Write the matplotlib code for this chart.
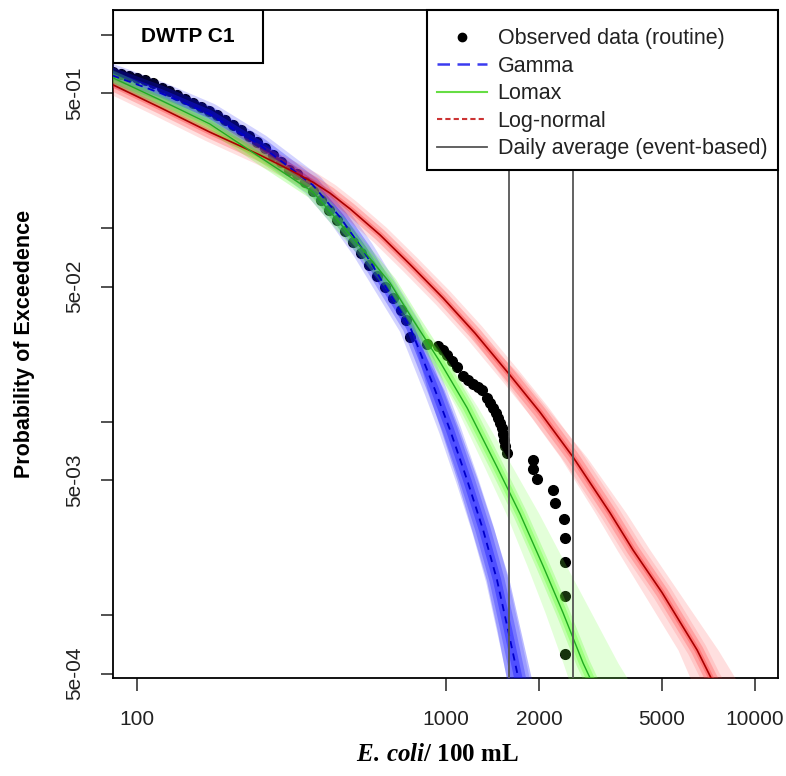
"""Exceedance plot of E. coli at DWTP C1: observed routine data vs fitted
Gamma, Lomax and log-normal curves, with event-based daily averages."""

import matplotlib
matplotlib.use("Agg")
import matplotlib.pyplot as plt
from matplotlib.lines import Line2D
from matplotlib.patches import Rectangle
from matplotlib.ticker import FixedLocator, FixedFormatter, NullFormatter, NullLocator

plt.rcParams["font.family"] = ["Liberation Sans", "DejaVu Sans"]
plt.rcParams["mathtext.fontset"] = "custom"
plt.rcParams["mathtext.it"] = "Liberation Serif:italic:bold"
plt.rcParams["mathtext.rm"] = "Liberation Serif:bold"

# --- data --------------------------------------------------------------
obs_conc = [83.6, 88.8, 94.2, 100, 106, 113, 120, 127, 135, 143, 152, 161, 171, 182,
            193, 205, 217, 230, 245, 260, 276, 292, 310, 330, 350, 371, 394, 418, 444,
            471, 500, 531, 563, 598, 635, 674, 715, 742, 765, 868, 942, 978, 1008, 1046,
            1085, 1135, 1178, 1223, 1269, 1308, 1358, 1388, 1420, 1452, 1474, 1496, 1518,
            1530, 1541, 1553, 1576, 1912, 1912, 1970, 2220, 2254, 2409, 2427, 2427, 2427,
            2427]
obs_prob = [0.642, 0.627, 0.612, 0.598, 0.583, 0.563, 0.531, 0.512, 0.488, 0.466, 0.444,
            0.423, 0.404, 0.385, 0.363, 0.342, 0.322, 0.300, 0.279, 0.260, 0.239, 0.220,
            0.200, 0.191, 0.173, 0.156, 0.140, 0.124, 0.110, 0.0968, 0.0849, 0.0745,
            0.0646, 0.0566, 0.0497, 0.0436, 0.0378, 0.0336, 0.0274, 0.0252, 0.0246,
            0.0235, 0.0221, 0.0206, 0.0192, 0.0172, 0.0164, 0.0157, 0.0151, 0.0146, 0.0133,
            0.0125, 0.0118, 0.0111, 0.0105, 0.00985, 0.00928, 0.00864, 0.00804, 0.00749,
            0.00689, 0.00631, 0.00568, 0.00505, 0.00442, 0.00379, 0.00315, 0.00252,
            0.00189, 0.00126, 0.00063]

gamma_conc = [76, 119, 172, 250, 371, 454, 539, 765, 921, 1030, 1170, 1318, 1462, 1587,
              1710, 1736]
gamma_prob = [0.650, 0.500, 0.389, 0.269, 0.167, 0.114, 0.0772, 0.0309, 0.0146, 0.00907,
              0.0050, 0.00276, 0.00152, 0.00084, 0.00048, 0.00042]
gamma_band_prob = [0.0309, 0.0146, 0.00907, 0.0050, 0.00276, 0.00152, 0.00084, 0.00048, 0.00042]
gamma_band_lo = [765, 870, 962, 1085, 1210, 1350, 1462, 1564, 1587]
gamma_band_hi = [765, 985, 1105, 1265, 1430, 1600, 1740, 1884, 1927]

lomax_conc = [76, 119, 172, 250, 371, 539, 659, 782, 956, 1170, 1462, 1736, 2060, 2391,
              2776, 2924, 3035]
lomax_prob = [0.643, 0.460, 0.346, 0.233, 0.154, 0.0772, 0.0521, 0.0336, 0.0204, 0.0118,
              0.00584, 0.00334, 0.00180, 0.00103, 0.000566, 0.000474, 0.000411]
lomax_band_prob = [0.0336, 0.0204, 0.0118, 0.00584, 0.00334, 0.00180, 0.00103, 0.000566,
                   0.000474, 0.000411]
lomax_band_lo = [782, 895, 1080, 1330, 1564, 1829, 2092, 2391, 2482, 2557]
lomax_band_hi = [782, 1020, 1270, 1640, 2000, 2450, 2950, 3600, 3854, 4060]

lnorm_conc = [76, 119, 172, 250, 313, 371, 421, 489, 612, 765, 978, 1241, 1611, 2014,
              2576, 3395, 4030, 5000, 6494, 7205, 7591]
lnorm_prob = [0.593, 0.420, 0.314, 0.239, 0.200, 0.173, 0.152, 0.126, 0.0923, 0.065,
              0.0436, 0.0287, 0.0174, 0.0112, 0.00657, 0.00338, 0.00217, 0.00131,
              0.000661, 0.000474, 0.000411]
lnorm_band_prob = [0.0436, 0.0174, 0.00657, 0.00338, 0.00217, 0.000661, 0.000474, 0.000411]
lnorm_band_lo = [978, 1500, 2340, 3035, 3576, 5634, 6161, 6445]
lnorm_band_hi = [978, 1740, 2850, 3824, 4573, 7591, 8616, 9147]

daily_avg = [1600, 2576]

x_ticks = [100, 1000, 2000, 5000, 10000]
x_tick_labels = ["100", "1000", "2000", "5000", "10000"]
y_ticks = [5e-4, 5e-3, 5e-2, 5e-1]
y_tick_labels = ["5e-04", "5e-03", "5e-02", "5e-01"]
y_minor = [1e-3, 1e-2, 1e-1, 1.0]

legend_labels = ["Observed data (routine)", "Gamma", "Lomax", "Log-normal",
                 "Daily average (event-based)"]
# ------------------------------------------------------------------------

fig = plt.figure(figsize=(7.86, 7.76), dpi=100)
ax = fig.add_axes([0.1438, 0.1263, 0.8461, 0.8608])
ax.set_xscale("log")
ax.set_yscale("log")


def soft_line(x, y, color, widths, alphas, z):
    for w, a in zip(widths, alphas):
        ax.plot(x, y, color=color, lw=w, alpha=a, solid_capstyle="butt",
                solid_joinstyle="round", zorder=z)


ax.plot(obs_conc, obs_prob, ls="none", marker="o", ms=7, color="black", zorder=2)

# uncertainty bands
soft_line(gamma_conc, gamma_prob, "#1010ff", [16, 11, 6], [0.18, 0.28, 0.4], 3)
ax.fill_betweenx(gamma_band_prob, gamma_band_lo, gamma_band_hi, color="#2020ff",
                 alpha=0.3, lw=0, zorder=3)
soft_line(lnorm_conc, lnorm_prob, "#ff3030", [14, 9, 4], [0.15, 0.25, 0.35], 3)
ax.fill_betweenx(lnorm_band_prob, lnorm_band_lo, lnorm_band_hi, color="#ff5050",
                 alpha=0.18, lw=0, zorder=3)
soft_line(lomax_conc, lomax_prob, "#55ff22", [10, 6], [0.25, 0.35], 3)
ax.fill_betweenx(lomax_band_prob, lomax_band_lo, lomax_band_hi, color="#77ff44",
                 alpha=0.2, lw=0, zorder=3)

# fitted curves
ax.plot(gamma_conc, gamma_prob, color="#0000cc", lw=1.3, ls=(0, (4, 3)), zorder=4)
ax.plot(lnorm_conc, lnorm_prob, color="#aa0000", lw=1.2, solid_joinstyle="round", zorder=4)
ax.plot(lomax_conc, lomax_prob, color="#22aa22", lw=1.0, solid_joinstyle="round", zorder=4)

for xv in daily_avg:
    ax.axvline(xv, color="#555555", lw=1.3, zorder=5)

ax.set_xlim(83.6, 11870)
ax.set_ylim(4.74e-4, 1.343)

ax.xaxis.set_major_locator(FixedLocator(x_ticks))
ax.xaxis.set_major_formatter(FixedFormatter(x_tick_labels))
ax.xaxis.set_minor_locator(NullLocator())
ax.yaxis.set_major_locator(FixedLocator(y_ticks))
ax.yaxis.set_major_formatter(FixedFormatter(y_tick_labels))
ax.yaxis.set_minor_locator(FixedLocator(y_minor))
ax.yaxis.set_minor_formatter(NullFormatter())
ax.tick_params(which="both", direction="out", length=9, width=1.1, labelsize=15,
               colors="#222222")
ax.tick_params(axis="x", pad=14)
ax.tick_params(axis="y", pad=12)
for lab in ax.get_yticklabels():
    lab.set_rotation(90)
    lab.set_va("center")
for sp in ax.spines.values():
    sp.set_linewidth(1.3)

fig.text(0.0318, 0.5567, "Probability of Exceedence", rotation=90, ha="center",
         va="center", fontsize=15.5, fontweight="bold")
fig.text(0.557, 0.0271, r"$\mathit{E.\,coli}$/ 100 mL", ha="center", va="center",
         fontsize=18, fontweight="bold", family="Liberation Serif")

# site label box
ax.add_patch(Rectangle((0, 0.9207), 0.2256, 0.0793, transform=ax.transAxes,
                       facecolor="white", edgecolor="black", lw=1.5, zorder=6))
ax.text(0.1128, 0.9603, "DWTP C1", transform=ax.transAxes, ha="center", va="center",
        fontsize=15, fontweight="bold", zorder=7)

handles = [
    Line2D([], [], ls="none", marker="o", color="black", ms=6),
    Line2D([], [], color="#3b3bf0", lw=1.8, ls=(0, (5, 3))),
    Line2D([], [], color="#66dd44", lw=1.5),
    Line2D([], [], color="#cc3333", lw=1.5, ls=(0, (2.5, 1.5))),
    Line2D([], [], color="#555555", lw=1.3),
]
leg = ax.legend(handles, legend_labels, loc="upper right", borderaxespad=0,
                fontsize=15.5, handlelength=2.3, handletextpad=0.5, labelspacing=0.3,
                borderpad=0.5, fancybox=False, framealpha=1, edgecolor="black",
                title=" ", title_fontsize=1)
leg.get_frame().set_linewidth(1.5)
leg.set_zorder(8)
for t in leg.get_texts():
    t.set_color("#222222")

fig.savefig("out.png", dpi=100)
